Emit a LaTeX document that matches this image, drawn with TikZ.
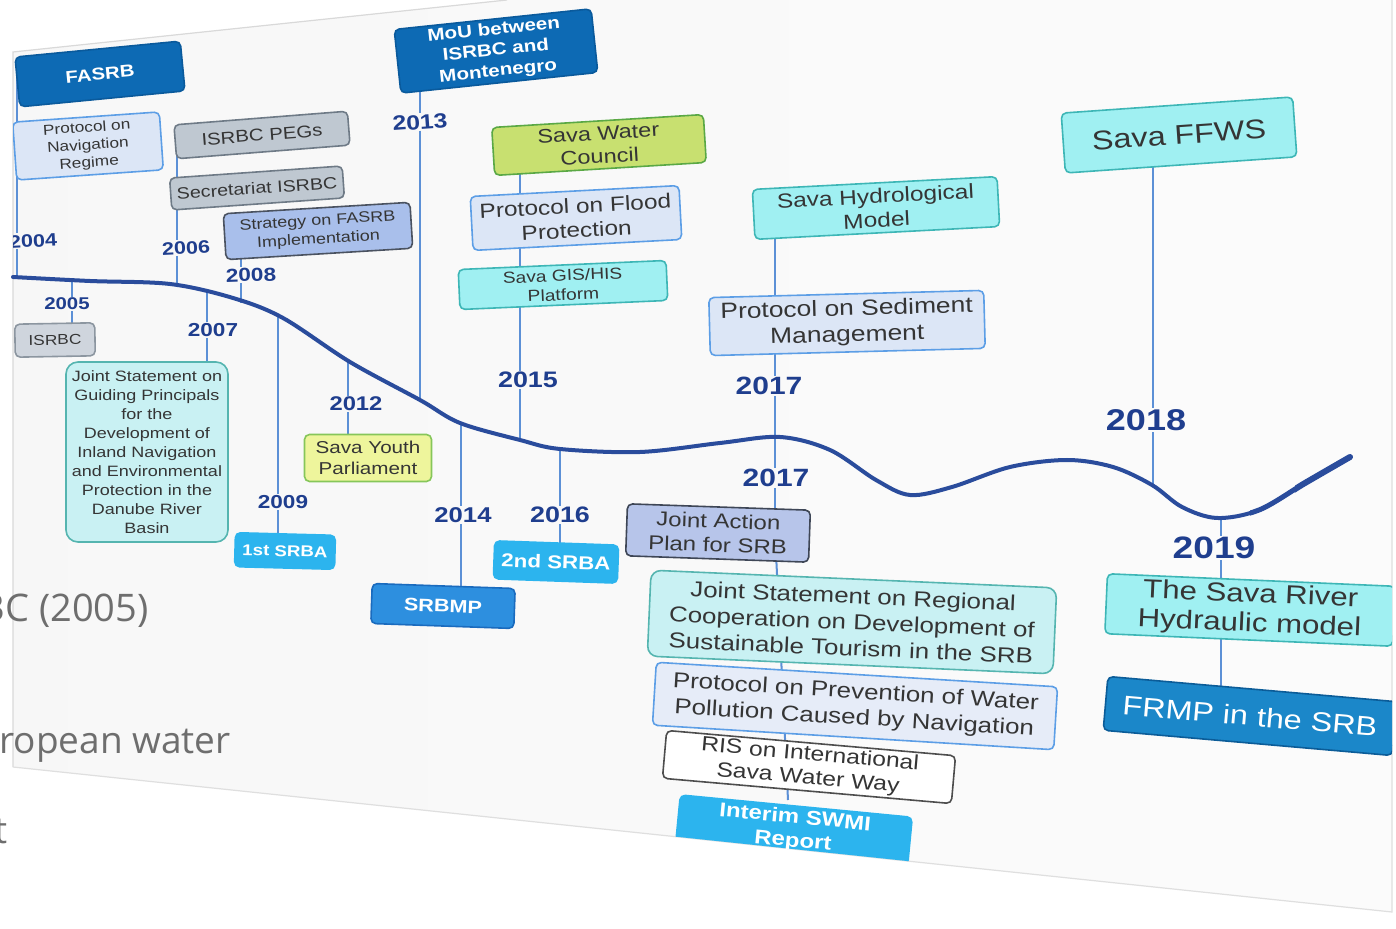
\documentclass[tikz,border=0pt]{standalone}
\usepackage{fontspec}
\setmainfont{Liberation Sans}[FakeStretch=1.2]
\newfontfamily\slidefont{Open Sans}
\usetikzlibrary{calc}
\definecolor{dkblue}{HTML}{0D6AB4}
\definecolor{dkblueb}{HTML}{0A5A9C}
\definecolor{lpfill}{HTML}{DCE6F6}
\definecolor{lpdraw}{HTML}{5C9EE6}
\definecolor{gyfill}{HTML}{BFC8D1}
\definecolor{gydraw}{HTML}{6E7A86}
\definecolor{isfill}{HTML}{CFD5DD}
\definecolor{isdraw}{HTML}{8C96A0}
\definecolor{stfill}{HTML}{A9BFEB}
\definecolor{stdraw}{HTML}{4A5260}
\definecolor{cyl}{HTML}{C9F1F3}
\definecolor{cyldraw}{HTML}{55B5B0}
\definecolor{cy}{HTML}{A0F0F2}
\definecolor{cydraw}{HTML}{3DB6B6}
\definecolor{bright}{HTML}{2CB4EE}
\definecolor{srbmpfill}{HTML}{2D8FDF}
\definecolor{srbmpdraw}{HTML}{1A6BBE}
\definecolor{yel}{HTML}{EEF59C}
\definecolor{yeldraw}{HTML}{86C65A}
\definecolor{cou}{HTML}{C8E070}
\definecolor{coudraw}{HTML}{5AA845}
\definecolor{japfill}{HTML}{B7C5EA}
\definecolor{japdraw}{HTML}{3E4656}
\definecolor{risdraw}{HTML}{4D4D4D}
\definecolor{frmpfill}{HTML}{1B87C9}
\definecolor{frmpdraw}{HTML}{0B5C98}
\definecolor{prevfill}{HTML}{E6ECF8}
\definecolor{txt}{HTML}{353535}
\definecolor{yearblue}{HTML}{1F3E8E}
\definecolor{curveblue}{HTML}{2A4C9C}
\definecolor{connblue}{HTML}{5C90D6}
\definecolor{bgtext}{HTML}{6E6E6E}
\newcommand{\myfs}[2]{\fontsize{#1}{#2}\selectfont}
\pgfdeclarelayer{panel}
\pgfdeclarelayer{bg}
\pgfsetlayers{panel,bg,main}
\tikzset{
  box/.style={draw, rounded corners=2.5pt, line width=0.8pt, align=center, inner sep=0.5pt, text=txt},
  wbox/.style={box, text=white},
  yr/.style={text=yearblue, inner sep=0.5pt},
  conn/.style={draw=connblue, line width=1pt},
  rivercurve/.style={draw=curveblue, line cap=round},
}
\begin{document}
\begin{tikzpicture}[x=0.5pt,y=-0.5pt]
\useasboundingbox (0,0) rectangle (1396,929);
\begin{pgfonlayer}{panel}
\fill[white] (0,0) rectangle (1396,929);
\path[left color=gray!6, right color=gray!3] (13,52) -- (507,0) -- (1392,0) -- (1392,912) -- (13,767) -- cycle;
\draw[gray!30, line width=0.6pt] (13,767) -- (13,52) -- (507,0);
\draw[gray!25, line width=0.6pt] (1392,0) -- (1392,912) -- (13,767);
\end{pgfonlayer}

\begin{scope}
\clip (13,52) -- (507,0) -- (1392,0) -- (1392,912) -- (13,767) -- cycle;
% curve points
\coordinate (c04) at (17,277);
\coordinate (c05) at (72,280);
\coordinate (c06) at (177,285);
\coordinate (c07) at (207,290);
\coordinate (c08) at (241,303);
\coordinate (c09) at (278,316);
\coordinate (c12) at (348,362);
\coordinate (c13) at (420,400);
\coordinate (c14) at (461,424);
\coordinate (c15) at (520,440);
\coordinate (c16) at (560,449);
\coordinate (c17) at (775,437);
\coordinate (k17) at (788,800);
\coordinate (c18) at (1153,486);
\coordinate (c19) at (1221,518);

% boxes
\node[wbox, fill=dkblue, draw=dkblueb, minimum width=83pt, minimum height=25pt, rotate=5.5, font=\myfs{8.5}{9}\bfseries] (fasrb) at (100,74) {FASRB};
\node[box, fill=lpfill, draw=lpdraw, minimum width=73.5pt, minimum height=29pt, rotate=4, font=\myfs{7.2}{8.8}] (nav) at (88,146) {Protocol on\\Navigation\\Regime};
\node[box, fill=gyfill, draw=gydraw, minimum width=87pt, minimum height=17pt, rotate=4.5, font=\myfs{8.5}{9}] (pegs) at (262,135) {ISRBC PEGs};
\node[box, fill=gyfill, draw=gydraw, minimum width=86.5pt, minimum height=16pt, rotate=4, font=\myfs{8.2}{9}] (secr) at (257,188) {Secretariat ISRBC};
\node[box, fill=stfill, draw=stdraw, minimum width=93.5pt, minimum height=23pt, rotate=3.5, font=\myfs{7.5}{9.2}] (strat) at (318,231) {Strategy on FASRB\\Implementation};
\node[box, fill=isfill, draw=isdraw, minimum width=40pt, minimum height=16.5pt, rotate=1, font=\myfs{7.2}{8}] (isrbc) at (55,340) {ISRBC};
\node[box, fill=cyl, draw=cyldraw, minimum width=81pt, minimum height=90pt, rounded corners=6pt, font=\myfs{7.5}{9.5}] (guiding) at (147,452) {Joint Statement on\\Guiding Principals\\for the\\Development of\\Inland Navigation\\and Environmental\\Protection in the\\Danube River\\Basin};
\node[wbox, fill=bright, draw=bright, minimum width=50pt, minimum height=17pt, rotate=-1.5, font=\myfs{7.8}{8.5}\bfseries] (srba1) at (285,551) {1st SRBA};
\node[box, fill=yel, draw=yeldraw, minimum width=63.5pt, minimum height=23.5pt, font=\myfs{8.6}{10.5}] (youth) at (368,458) {Sava Youth\\Parliament};
\node[wbox, fill=dkblue, draw=dkblueb, minimum width=99pt, minimum height=32pt, rotate=6, font=\myfs{8.6}{10.4}\bfseries] (mou) at (496,51) {MoU between\\ISRBC and\\Montenegro};
\node[wbox, fill=srbmpfill, draw=srbmpdraw, minimum width=71.5pt, minimum height=20pt, rotate=-2, font=\myfs{9}{10}\bfseries] (srbmp) at (443,606) {SRBMP};
\node[box, fill=cou, draw=coudraw, minimum width=106pt, minimum height=24pt, rotate=3.5, font=\myfs{9.8}{11.6}] (council) at (599,145) {Sava Water\\Council};
\node[box, fill=lpfill, draw=lpdraw, minimum width=104.5pt, minimum height=27pt, rotate=3, font=\myfs{10.2}{12.2}] (flood) at (576,218) {Protocol on Flood\\Protection};
\node[box, fill=cy, draw=cydraw, minimum width=104pt, minimum height=20pt, rotate=2.5, font=\myfs{8}{9.6}] (gis) at (563,285) {Sava GIS/HIS\\Platform};
\node[wbox, fill=bright, draw=bright, minimum width=62pt, minimum height=19pt, rotate=-2, font=\myfs{9.3}{10}\bfseries] (srba2) at (556,562) {2nd SRBA};
\node[box, fill=cy, draw=cydraw, minimum width=122.5pt, minimum height=25pt, rotate=3, font=\myfs{10.2}{12}] (hydro) at (876,208) {Sava Hydrological\\Model};
\node[box, fill=lpfill, draw=lpdraw, minimum width=137.5pt, minimum height=29pt, rotate=1.5, font=\myfs{11}{13}] (sed) at (847,323) {Protocol on Sediment\\Management};
\node[box, fill=japfill, draw=japdraw, minimum width=91.5pt, minimum height=26pt, rotate=-2, font=\myfs{10}{12}] (jap) at (718,533) {Joint Action\\Plan for SRB};
\node[box, fill=cyl, draw=cyldraw, minimum width=203pt, minimum height=43pt, rotate=-2.5, rounded corners=5pt, font=\myfs{10.8}{13}] (regional) at (852,622) {Joint Statement on Regional\\Cooperation on Development of\\Sustainable Tourism in the SRB};
\node[box, fill=prevfill, draw=lpdraw, minimum width=201pt, minimum height=31.5pt, rotate=-3.5, font=\myfs{10.8}{13}] (prev) at (855,706) {Protocol on Prevention of Water\\Pollution Caused by Navigation};
\node[box, fill=white, draw=risdraw, minimum width=145pt, minimum height=24pt, rotate=-5, font=\myfs{10.3}{12}] (ris) at (809,767) {RIS on International\\Sava Water Way};
\node[wbox, fill=bright, draw=bright, minimum width=116.5pt, minimum height=24pt, rotate=-5.5, font=\myfs{10}{11.8}\bfseries] (interim) at (794,830) {Interim SWMI\\Report};
\node[box, fill=cy, draw=cydraw, minimum width=116pt, minimum height=30pt, rotate=4, font=\myfs{13.5}{14}] (ffws) at (1179,135) {Sava FFWS};
\node[box, fill=cy, draw=cydraw, minimum width=144pt, minimum height=30pt, rotate=-2.5, font=\myfs{13}{14.6}] (hydraulic) at (1250,610) {The Sava River\\Hydraulic model};
\node[wbox, fill=frmpfill, draw=frmpdraw, minimum width=145pt, minimum height=27pt, rotate=-5, font=\myfs{13.5}{14}] (frmp) at (1250,716) {FRMP in the SRB};

% years
\node[yr, rotate=3, font=\myfs{9}{9}\bfseries] (y04) at (33,241) {2004};
\node[yr, font=\myfs{8.5}{9}\bfseries] (y05) at (67,304) {2005};
\node[yr, rotate=3, font=\myfs{9}{9}\bfseries] (y06) at (186,248) {2006};
\node[yr, font=\myfs{9.4}{10}\bfseries] (y07) at (213,330) {2007};
\node[yr, rotate=2, font=\myfs{9.4}{10}\bfseries] (y08) at (251,275) {2008};
\node[yr, font=\myfs{9.4}{10}\bfseries] (y09) at (283,502) {2009};
\node[yr, font=\myfs{9.9}{10}\bfseries] (y12) at (356,404) {2012};
\node[yr, rotate=4, font=\myfs{10.3}{11}\bfseries] (y13) at (420,122) {2013};
\node[yr, font=\myfs{10.7}{11}\bfseries] (y14) at (463,515) {2014};
\node[yr, font=\myfs{11.2}{12}\bfseries] (y15) at (528,380) {2015};
\node[yr, font=\myfs{11.2}{12}\bfseries] (y16) at (560,515) {2016};
\node[yr, font=\myfs{12.5}{13}\bfseries] (y17a) at (769,386) {2017};
\node[yr, font=\myfs{12.5}{13}\bfseries] (y17b) at (776,478) {2017};
\node[yr, font=\myfs{15}{16}\bfseries] (y18) at (1146,420) {2018};
\node[yr, font=\myfs{15.5}{16}\bfseries] (y19) at (1214,548) {2019};
\end{scope}

\begin{pgfonlayer}{bg}
\draw[conn] (fasrb.center -| c04) -- (y04.north -| c04);
\draw[conn] (y04.south -| c04) -- (c04);
\draw[conn] (c05) -- (y05.north -| c05);
\draw[conn] (y05.south -| c05) -- (isrbc.center -| c05);
\draw[conn] (pegs.center -| c06) -- (y06.north -| c06);
\draw[conn] (y06.south -| c06) -- (c06);
\draw[conn] (c07) -- (y07.north -| c07);
\draw[conn] (y07.south -| c07) -- (guiding.center -| c07);
\draw[conn] (strat.center -| c08) -- (y08.north -| c08);
\draw[conn] (y08.south -| c08) -- (c08);
\draw[conn] (c09) -- (y09.north -| c09);
\draw[conn] (y09.south -| c09) -- (srba1.center -| c09);
\draw[conn] (c12) -- (y12.north -| c12);
\draw[conn] (y12.south -| c12) -- (youth.center -| c12);
\draw[conn] (mou.center -| c13) -- (y13.north -| c13);
\draw[conn] (y13.south -| c13) -- (c13);
\draw[conn] (c14) -- (y14.north -| c14);
\draw[conn] (y14.south -| c14) -- (srbmp.center -| c14);
\draw[conn] (council.center -| c15) -- (y15.north -| c15);
\draw[conn] (y15.south -| c15) -- (c15);
\draw[conn] (c16) -- (y16.north -| c16);
\draw[conn] (y16.south -| c16) -- (srba2.center -| c16);
\draw[conn] (hydro.center -| c17) -- (y17a.north -| c17);
\draw[conn] (y17a.south -| c17) -- (c17);
\draw[conn] (c17) -- (y17b.north -| c17);
\draw[conn] (y17b.south -| c17) -- (jap.center -| c17);
\draw[conn] (jap.center -| c17) -- (k17);
\draw[conn] (ffws.center -| c18) -- (y18.north -| c18);
\draw[conn] (y18.south -| c18) -- (c18);
\draw[conn] (c19) -- (y19.north -| c19);
\draw[conn] (y19.south -| c19) -- (hydraulic.center -| c19);
\draw[conn] (hydraulic.center -| c19) -- (frmp.center -| c19);
\draw[rivercurve, line width=2pt] plot[smooth, tension=0.55] coordinates {(13,277) (90,281) (170,284) (233,298) (283,318) (350,362) (420,400) (460,423) (520,440) (560,449) (640,452) (720,443) (780,437) (830,450) (876,480) (910,495) (952,487) (1010,467) (1067,460) (1113,467) (1152,485) (1182,507) (1217,518) (1259,510) (1305,483) (1350,457)};
\begin{scope}
\clip (1250,380) rectangle (1396,560);
\draw[rivercurve, line width=2.5pt] plot[smooth, tension=0.55] coordinates {(13,277) (90,281) (170,284) (233,298) (283,318) (350,362) (420,400) (460,423) (520,440) (560,449) (640,452) (720,443) (780,437) (830,450) (876,480) (910,495) (952,487) (1010,467) (1067,460) (1113,467) (1152,485) (1182,507) (1217,518) (1259,510) (1305,483) (1350,457)};
\end{scope}
\begin{scope}
\clip (1295,380) rectangle (1396,560);
\draw[rivercurve, line width=3pt] plot[smooth, tension=0.55] coordinates {(13,277) (90,281) (170,284) (233,298) (283,318) (350,362) (420,400) (460,423) (520,440) (560,449) (640,452) (720,443) (780,437) (830,450) (876,480) (910,495) (952,487) (1010,467) (1067,460) (1113,467) (1152,485) (1182,507) (1217,518) (1259,510) (1305,483) (1350,457)};
\end{scope}
\end{pgfonlayer}

% slide text in front
\node[text=bgtext, font=\myfs{19}{22}\slidefont, anchor=base east, inner sep=0] (s1) at (149,621) {BC (2005)};
\node[text=bgtext, font=\myfs{18.5}{22}\slidefont, anchor=base west, inner sep=0] (s2) at (-1,753) {ropean water};
\node[text=bgtext, font=\myfs{18.5}{22}\slidefont, anchor=base east, inner sep=0] (s3) at (8,843) {t};
\end{tikzpicture}
\end{document}
